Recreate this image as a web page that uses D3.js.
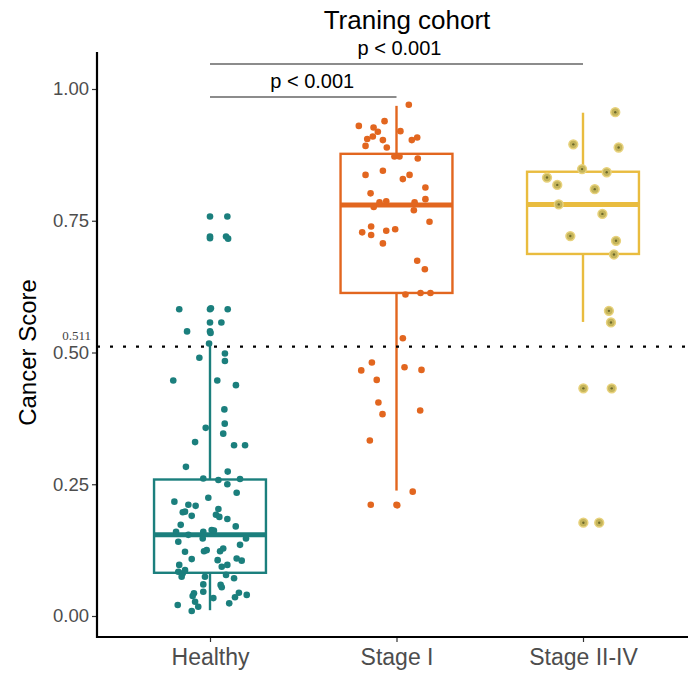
<!DOCTYPE html>
<html>
<head>
<meta charset="utf-8">
<script src="https://cdn.jsdelivr.net/npm/d3@7/dist/d3.min.js"></script>
<style>
  html, body { margin: 0; padding: 0; background: #fff; }
  svg { display: block; font-family: "Liberation Sans", Arial, sans-serif; }
</style>
</head>
<body>
<svg id="chart" width="688" height="679"></svg>
<script>
// ---------- data ----------
const categories = ["Healthy", "Stage I", "Stage II-IV"];
const colors = ["#1B7F7D", "#E2661F", "#E9BC3F"];
const pointColors = ["#1B7F7D", "#E2661F", "#C9B657"];

// box statistics
const boxQ1 = [0.082, 0.613, 0.687];
const boxMedian = [0.154, 0.780, 0.781];
const boxQ3 = [0.259, 0.877, 0.843];
const whiskerLow = [0.011, 0.238, 0.558];
const whiskerHigh = [0.517, 0.968, 0.955];

const cutoff = 0.511;
const yTicks = [0.00, 0.25, 0.50, 0.75, 1.00];

// jittered points: [horizontal jitter (category units), score]
const healthyPoints = [
  [0, 0.758], [0.093, 0.758], [0, 0.720], [0.00, 0.717], [0.086, 0.720], [0.097, 0.716],
  [-0.165, 0.582], [0, 0.582], [0.005, 0.584], [0.095, 0.582], [0, 0.557], [0.061, 0.557],
  [-0.123, 0.540], [0, 0.540], [0.003, 0.537], [-0.005, 0.517], [-0.057, 0.490], [0.080, 0.498],
  [0.080, 0.484], [-0.197, 0.447], [0.039, 0.447], [0.139, 0.438], [0.077, 0.392], [0.079, 0.365],
  [-0.023, 0.357], [0.071, 0.346], [-0.080, 0.330], [0.129, 0.324], [0.188, 0.324], [-0.129, 0.283],
  [0.095, 0.274], [-0.036, 0.261], [0.045, 0.258], [0.161, 0.260], [0.093, 0.250], [0.143, 0.234],
  [-0.009, 0.2245], [-0.191, 0.217], [-0.116, 0.211], [-0.077, 0.209], [-0.146, 0.197], [-0.134, 0.198],
  [-0.098, 0.190], [0.045, 0.203], [0.032, 0.192], [0.050, 0.188], [0.093, 0.184], [-0.157, 0.173],
  [0.138, 0.170], [-0.182, 0.160], [-0.036, 0.160], [0.009, 0.163], [0.021, 0.162], [-0.116, 0.154],
  [-0.039, 0.147], [0.193, 0.147], [-0.170, 0.141], [0.161, 0.135], [-0.134, 0.122], [-0.032, 0.123],
  [-0.018, 0.125], [0.054, 0.123], [0.071, 0.128], [-0.098, 0.108], [0.041, 0.106], [0.143, 0.109],
  [0.170, 0.105], [0.063, 0.0935], [0.093, 0.097], [-0.165, 0.097], [-0.170, 0.084], [-0.146, 0.081],
  [-0.134, 0.087], [-0.152, 0.0746], [-0.027, 0.0746], [0.086, 0.078], [0.129, 0.0715], [-0.036, 0.060],
  [0.057, 0.059], [0.063, 0.0545], [-0.086, 0.043], [-0.093, 0.038], [-0.036, 0.046], [0.018, 0.034],
  [0.155, 0.044], [0.197, 0.040], [0.134, 0.0355], [-0.173, 0.021], [-0.080, 0.027], [-0.063, 0.0176],
  [-0.098, 0.0095], [0.103, 0.024]
];
const stageIPoints = [
  [0.066, 0.970], [-0.202, 0.930], [-0.123, 0.927], [-0.064, 0.939], [-0.100, 0.919], [-0.157, 0.905],
  [-0.127, 0.910], [0.021, 0.920], [-0.166, 0.892], [-0.073, 0.903], [-0.052, 0.889], [0.082, 0.903],
  [0.111, 0.908], [-0.011, 0.872], [0.016, 0.872], [0.114, 0.868], [-0.166, 0.837], [-0.073, 0.845],
  [0.034, 0.829], [0.070, 0.837], [0.155, 0.813], [-0.139, 0.802], [-0.091, 0.785], [-0.055, 0.787],
  [-0.122, 0.776], [0.097, 0.785], [0.093, 0.770], [0.155, 0.791], [0.177, 0.748], [-0.184, 0.728],
  [-0.136, 0.739], [-0.136, 0.723], [-0.055, 0.731], [-0.007, 0.734], [-0.073, 0.707], [0.111, 0.674],
  [0.152, 0.658], [0.048, 0.610], [0.129, 0.613], [0.182, 0.613], [0.034, 0.527], [-0.132, 0.481],
  [-0.189, 0.466], [0.043, 0.472], [0.134, 0.467], [-0.106, 0.448], [-0.097, 0.405], [-0.075, 0.383],
  [0.127, 0.390], [-0.143, 0.333], [0.087, 0.236], [-0.138, 0.211], [0, 0.211], [0.004, 0.210]
];
const stageIIPoints = [
  [0.173, 0.956], [-0.052, 0.895], [0.191, 0.889], [-0.005, 0.848], [0.127, 0.842], [-0.193, 0.832],
  [-0.138, 0.818], [0.063, 0.810], [-0.130, 0.781], [0.104, 0.763], [-0.068, 0.721], [0.177, 0.712],
  [0.166, 0.686], [0.139, 0.579], [0.150, 0.557], [0.002, 0.432], [0.154, 0.432], [0.002, 0.177],
  [0.087, 0.177]
];
const groups = [healthyPoints, stageIPoints, stageIIPoints];

// significance brackets: [from category, to category, label]
const brackets = [
  ["Healthy", "Stage II-IV", "p < 0.001"],
  ["Healthy", "Stage I", "p < 0.001"]
];
const title = "Traning cohort";
const yTitle = "Cancer Score";

// ---------- layout ----------
const svg = d3.select("#chart");
const panel = { left: 97, right: 695, top: 52, bottom: 637 };

const x = d3.scalePoint().domain(categories).range([210, 583]);
const step = x.step();
const y = d3.scaleLinear().domain([0, 1]).range([616, 89]);

svg.append("defs").append("clipPath").attr("id", "panelClip")
  .append("rect").attr("x", panel.left).attr("y", panel.top)
  .attr("width", panel.right - panel.left).attr("height", panel.bottom - panel.top);

const g = svg.append("g").attr("clip-path", "url(#panelClip)");

// boxes
categories.forEach((c, i) => {
  const cx = x(c);
  const halfW = 0.3 * step;
  const col = colors[i];
  g.append("line").attr("x1", cx).attr("x2", cx)
    .attr("y1", y(boxQ3[i])).attr("y2", y(whiskerHigh[i]))
    .attr("stroke", col).attr("stroke-width", 2.4);
  g.append("line").attr("x1", cx).attr("x2", cx)
    .attr("y1", y(boxQ1[i])).attr("y2", y(whiskerLow[i]))
    .attr("stroke", col).attr("stroke-width", 2.4);
  g.append("rect").attr("x", cx - halfW).attr("width", 2 * halfW)
    .attr("y", y(boxQ3[i])).attr("height", y(boxQ1[i]) - y(boxQ3[i]))
    .attr("fill", "none").attr("stroke", col).attr("stroke-width", 2.4);
  g.append("line").attr("x1", cx - halfW).attr("x2", cx + halfW)
    .attr("y1", y(boxMedian[i])).attr("y2", y(boxMedian[i]))
    .attr("stroke", col).attr("stroke-width", 5);
});

// cutoff line
g.append("line").attr("x1", panel.left).attr("x2", 688)
  .attr("y1", y(cutoff)).attr("y2", y(cutoff))
  .attr("stroke", "#000").attr("stroke-width", 2.2).attr("stroke-dasharray", "3,10");

// points
categories.forEach((c, i) => {
  const pts = groups[i];
  const sel = g.append("g").selectAll("circle").data(pts).join("circle")
    .attr("cx", d => x(c) + d[0] * step)
    .attr("cy", d => y(d[1]));
  if (i === 2) {
    sel.attr("r", 4.4).attr("fill", "#C4B45A").attr("stroke", "#E8D27C").attr("stroke-width", 1.5);
    g.append("g").selectAll("circle").data(pts).join("circle")
      .attr("cx", d => x(c) + d[0] * step)
      .attr("cy", d => y(d[1]))
      .attr("r", 1.2).attr("fill", "#6E6A2C");
  } else {
    sel.attr("r", 3.3).attr("fill", pointColors[i]);
  }
});

// axes
const yAxis = d3.axisLeft(y).tickValues(yTicks).tickFormat(d3.format(".2f")).tickSize(5).tickPadding(3);
const yG = svg.append("g").attr("transform", `translate(${panel.left},0)`).call(yAxis);
yG.select(".domain").remove();
yG.selectAll(".tick line").attr("stroke", "#333").attr("stroke-width", 1.2);
yG.selectAll(".tick text").attr("fill", "#4D4D4D").style("font-size", "18.5px")
  .style("font-family", "'Liberation Sans', Arial, sans-serif");
svg.append("line").attr("x1", panel.left).attr("x2", panel.left)
  .attr("y1", panel.top).attr("y2", panel.bottom + 1)
  .attr("stroke", "#000").attr("stroke-width", 2.2);

const xAxis = d3.axisBottom(x).tickSize(5).tickPadding(7);
const xG = svg.append("g").attr("transform", `translate(0,${panel.bottom})`).call(xAxis);
xG.select(".domain").remove();
xG.selectAll(".tick line").attr("stroke", "#333").attr("stroke-width", 1.2);
xG.selectAll(".tick text").attr("fill", "#4D4D4D").style("font-size", "23px")
  .style("font-family", "'Liberation Sans', Arial, sans-serif");
svg.append("line").attr("x1", panel.left - 1).attr("x2", 688)
  .attr("y1", panel.bottom).attr("y2", panel.bottom)
  .attr("stroke", "#000").attr("stroke-width", 2.2);

// cutoff label
svg.append("text").attr("x", 91).attr("y", y(cutoff) - 7).attr("text-anchor", "end")
  .attr("font-family", "'Liberation Serif', 'Times New Roman', serif")
  .attr("font-size", 13).attr("fill", "#444").text(cutoff.toFixed(3));

// brackets
const bracketY = [y(1) - 25, y(1) + 8];
brackets.forEach((b, i) => {
  const x1 = x(b[0]), x2 = x(b[1]);
  const by = bracketY[i];
  svg.append("line").attr("x1", x1).attr("x2", x2).attr("y1", by).attr("y2", by)
    .attr("stroke", "#8C8C8C").attr("stroke-width", 2);
  svg.append("text").attr("x", (x1 + x2) / 2 + (i === 0 ? 3 : 9)).attr("y", by - 9)
    .attr("text-anchor", "middle").attr("font-size", 20).attr("fill", "#000").text(b[2]);
});

// title
svg.append("text").attr("x", 407).attr("y", 29).attr("text-anchor", "middle")
  .attr("font-size", 26).attr("fill", "#000").text(title);

// y axis title
svg.append("text").attr("transform", `translate(36,${(panel.top + panel.bottom) / 2 + 8}) rotate(-90)`)
  .attr("text-anchor", "middle").attr("font-size", 24).attr("fill", "#000").text(yTitle);
</script>
</body>
</html>
